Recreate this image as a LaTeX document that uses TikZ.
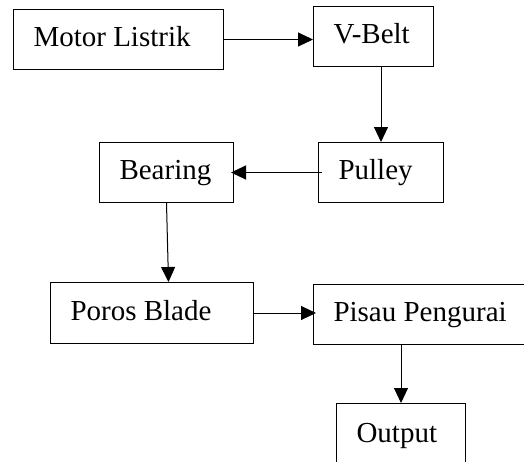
\documentclass[tikz,border=0pt]{standalone}
\usepackage{fontspec}
\setmainfont{Liberation Serif}
\usetikzlibrary{arrows.meta}

\begin{document}
\begin{tikzpicture}[x=1pt, y=-1pt,
    blok/.style={draw, line width=1pt, anchor=north west, align=flush left,
      inner xsep=20pt, inner ysep=0pt, minimum height=60pt,
      text height=20pt, text depth=6pt, font=\fontsize{29}{34}\selectfont},
    panah/.style={line width=1pt, -{Triangle[length=15pt, width=14pt]}}]
    \clip (0,0) rectangle (524,461);
    \node[blok, text width=170pt] (motor) at (13,9) {Motor Listrik};
    \node[blok, text width=80pt] (vbelt) at (313,6) {V-Belt};
    \node[blok, text width=85pt] (pulley) at (318,142) {Pulley};
    \node[blok, text width=94pt] (bearing) at (99,142) {Bearing};
    \node[blok, text width=163pt, minimum height=61pt] (poros) at (50,282) {Poros Blade};
    \node[blok, text width=200pt] (pisau) at (313,284) {Pisau Pengurai};
    \node[blok, text width=89pt, minimum height=64pt] (output) at (336,403) {Output};

    \draw[panah] (motor.east) -- (vbelt.west |- motor.east);
    \draw[panah] (vbelt.south -| pulley) -- (pulley.north);
    \draw[panah, shorten >=-3pt] ([xshift=4pt]pulley.west) -- (bearing.east);
    \draw[panah] (bearing.south) -- ([xshift=2pt]bearing.south |- poros.north);
    \draw[panah, shorten >=-3pt] (poros.east) -- (pisau.west |- poros.east);
    \draw[panah] (pisau.south -| output) -- (output.north);
\end{tikzpicture}
\end{document}
